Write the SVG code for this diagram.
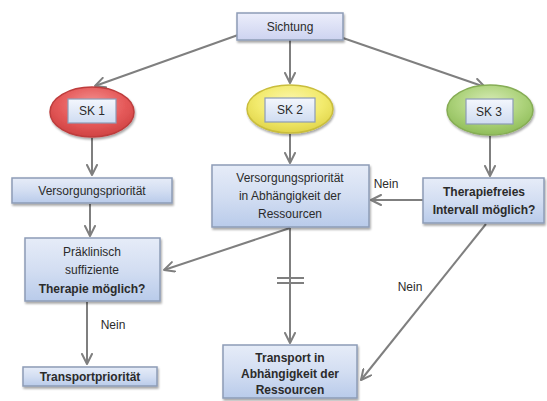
<svg xmlns="http://www.w3.org/2000/svg" width="547" height="401" viewBox="0 0 547 401">
  <defs>
    <linearGradient id="boxFill" x1="0" y1="0" x2="0" y2="1">
      <stop offset="0" stop-color="#e6ecf8"/>
      <stop offset="0.5" stop-color="#d3def2"/>
      <stop offset="1" stop-color="#b9cbea"/>
    </linearGradient>
    <linearGradient id="headFill" x1="0" y1="0" x2="0" y2="1">
      <stop offset="0" stop-color="#eceefb"/>
      <stop offset="1" stop-color="#cdd3f0"/>
    </linearGradient>
    <linearGradient id="tagFill" x1="0" y1="0" x2="0" y2="1">
      <stop offset="0" stop-color="#f4f7fd"/>
      <stop offset="1" stop-color="#cfdcf1"/>
    </linearGradient>
    <radialGradient id="redFill" cx="0.5" cy="0.35" r="0.65">
      <stop offset="0" stop-color="#f49494"/>
      <stop offset="0.6" stop-color="#e55a5a"/>
      <stop offset="1" stop-color="#cf4242"/>
    </radialGradient>
    <radialGradient id="yellowFill" cx="0.5" cy="0.35" r="0.65">
      <stop offset="0" stop-color="#fbf6b0"/>
      <stop offset="0.6" stop-color="#f2ea6c"/>
      <stop offset="1" stop-color="#e0d44a"/>
    </radialGradient>
    <radialGradient id="greenFill" cx="0.5" cy="0.35" r="0.65">
      <stop offset="0" stop-color="#d8ecb8"/>
      <stop offset="0.6" stop-color="#acd27a"/>
      <stop offset="1" stop-color="#8fbd5a"/>
    </radialGradient>
    <filter id="shade" x="-10%" y="-10%" width="125%" height="135%">
      <feGaussianBlur in="SourceAlpha" stdDeviation="1.2"/>
      <feOffset dx="1" dy="1.5" result="b"/>
      <feComponentTransfer><feFuncA type="linear" slope="0.35"/></feComponentTransfer>
      <feMerge><feMergeNode/><feMergeNode in="SourceGraphic"/></feMerge>
    </filter>
    <marker id="arrow" viewBox="0 0 12 12" refX="11" refY="6" markerWidth="12" markerHeight="12" markerUnits="userSpaceOnUse" orient="auto">
      <path d="M1,1 L11,6 L1,11" fill="none" stroke="#7f7f7f" stroke-width="2" stroke-linecap="round" stroke-linejoin="round"/>
    </marker>
  </defs>
  <style>
    .box { fill: url(#boxFill); stroke: #8d9cb6; stroke-width: 1.5; filter: url(#shade); }
    .tag { fill: url(#tagFill); stroke: #8d9cb6; stroke-width: 1.2; }
    .oval { stroke-width: 1.5; filter: url(#shade); }
    .lbl { font-family: "Liberation Sans", Arial, sans-serif; font-size: 12px; fill: #2b2b2b; text-anchor: middle; }
    .b { font-weight: bold; }
    .link { fill: none; stroke: #7f7f7f; stroke-width: 2; }
    .arr { marker-end: url(#arrow); }
  </style>

  <rect width="547" height="401" fill="#ffffff"/>

  <!-- connectors -->
  <g id="connectors">
    <path class="link arr" d="M238,35 L95,86"/>
    <path class="link arr" d="M290,40 L290,83"/>
    <path class="link arr" d="M343,38 L485,87"/>
    <path class="link arr" d="M92,138 L92,175"/>
    <path class="link arr" d="M290,134 L290,163"/>
    <path class="link arr" d="M490,136 L490,176"/>
    <path class="link arr" d="M90,204 L90,236"/>
    <path class="link arr" d="M423,200 L371,200"/>
    <path class="link arr" d="M290,228 L164,270"/>
    <path class="link arr" d="M290,228 L290,343"/>
    <path class="link" d="M277,278 L304,278 M277,283 L304,283" stroke-width="1.5"/>
    <path class="link arr" d="M87,302 L87,364"/>
    <path class="link arr" d="M486,224 L361,380"/>
    <text class="lbl" x="386" y="188">Nein</text>
    <text class="lbl" x="113" y="329">Nein</text>
    <text class="lbl" x="410" y="291">Nein</text>
  </g>

  <g id="sichtung">
    <rect class="box" x="237" y="13" width="106" height="27" style="fill:url(#headFill)"/>
    <text class="lbl" x="290" y="31">Sichtung</text>
  </g>

  <g id="sk1">
    <ellipse class="oval" cx="92" cy="112" rx="42" ry="25" fill="url(#redFill)" stroke="#bd3c3c"/>
    <rect class="tag" x="68" y="99" width="48" height="24"/>
    <text class="lbl" x="92" y="115">SK 1</text>
  </g>

  <g id="sk2">
    <ellipse class="oval" cx="290" cy="109" rx="43" ry="24" fill="url(#yellowFill)" stroke="#c9bd3c"/>
    <rect class="tag" x="265" y="98" width="50" height="24"/>
    <text class="lbl" x="290" y="114">SK 2</text>
  </g>

  <g id="sk3">
    <ellipse class="oval" cx="490" cy="110" rx="43" ry="25" fill="url(#greenFill)" stroke="#86ad55"/>
    <rect class="tag" x="466" y="99" width="47" height="25"/>
    <text class="lbl" x="489" y="116">SK 3</text>
  </g>

  <g id="versorgung-1">
    <rect class="box" x="12" y="178" width="160" height="25"/>
    <text class="lbl" x="92" y="195">Versorgungspriorität</text>
  </g>

  <g id="versorgung-2">
    <rect class="box" x="212" y="165" width="157" height="62"/>
    <text class="lbl" x="290" y="182">Versorgungspriorität</text>
    <text class="lbl" x="290" y="200">in Abhängigkeit der</text>
    <text class="lbl" x="290" y="218">Ressourcen</text>
  </g>

  <g id="therapiefrei">
    <rect class="box" x="423" y="178" width="121" height="45"/>
    <text class="lbl b" x="484" y="196">Therapiefreies</text>
    <text class="lbl b" x="484" y="214">Intervall möglich?</text>
  </g>

  <g id="praeklinisch">
    <rect class="box" x="25" y="238" width="135" height="63"/>
    <text class="lbl" x="92" y="256">Präklinisch</text>
    <text class="lbl" x="92" y="274">suffiziente</text>
    <text class="lbl b" x="92" y="293">Therapie möglich?</text>
  </g>

  <g id="transportprio">
    <rect class="box" x="23" y="367" width="134" height="19"/>
    <text class="lbl b" x="90" y="381">Transportpriorität</text>
  </g>

  <g id="transport">
    <rect class="box" x="223" y="345" width="134" height="53"/>
    <text class="lbl b" x="290" y="362">Transport in</text>
    <text class="lbl b" x="290" y="378">Abhängigkeit der</text>
    <text class="lbl b" x="290" y="394">Ressourcen</text>
  </g>
</svg>
